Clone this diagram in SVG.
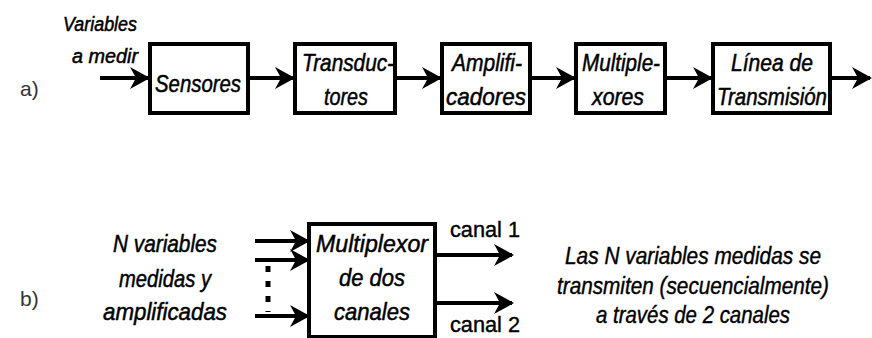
<svg xmlns="http://www.w3.org/2000/svg" width="872" height="338" viewBox="0 0 872 338">
<style>
.bg{fill:#fff}
.box{fill:#fff;stroke:#000;stroke-width:4}
.con{stroke:#000;stroke-width:4;fill:none}
.t{font-family:"Liberation Sans",Arial,sans-serif;font-style:italic;font-size:24px;fill:#000;stroke:#000;stroke-width:0.5}
.s{font-family:"Liberation Sans",Arial,sans-serif;font-style:italic;font-size:20px;fill:#000;stroke:#000;stroke-width:0.5}
.n{font-family:"Liberation Sans",Arial,sans-serif;font-style:italic;font-size:23px;fill:#000;stroke:#000;stroke-width:0.4}
.lab{font-family:"Liberation Sans",Arial,sans-serif;font-size:21px;fill:#333}
.r{font-family:"Liberation Sans",Arial,sans-serif;font-size:22px;fill:#000;stroke:#000;stroke-width:0.4}
</style>
<defs>
<marker id="ah" markerUnits="userSpaceOnUse" markerWidth="22" markerHeight="24" refX="18" refY="12" orient="auto" viewBox="0 0 22 24">
<path d="M0,1 L20,12 L0,23 L6,12 Z" fill="#000"/>
</marker>
</defs>
<rect class="bg" x="0" y="0" width="872" height="338"/>

<text class="lab" x="20" y="96">a)</text>
<text class="lab" x="20" y="306">b)</text>

<g id="connectors">
<line class="con" x1="100" y1="78" x2="148" y2="78" marker-end="url(#ah)"/>
<line class="con" x1="248" y1="78" x2="293" y2="78" marker-end="url(#ah)"/>
<line class="con" x1="395" y1="78" x2="440" y2="78" marker-end="url(#ah)"/>
<line class="con" x1="530" y1="78" x2="574" y2="78" marker-end="url(#ah)"/>
<line class="con" x1="665" y1="78" x2="711" y2="78" marker-end="url(#ah)"/>
<line class="con" x1="830" y1="78" x2="870" y2="78" marker-end="url(#ah)"/>
<line class="con" x1="255" y1="241" x2="308" y2="241" marker-end="url(#ah)"/>
<line class="con" x1="255" y1="260" x2="308" y2="260" marker-end="url(#ah)"/>
<line class="con" x1="255" y1="316" x2="308" y2="316" marker-end="url(#ah)"/>
<line x1="268" y1="266" x2="268" y2="312" stroke="#000" stroke-width="5" stroke-dasharray="6,9"/>
<line class="con" x1="435" y1="255" x2="512" y2="255" marker-end="url(#ah)"/>
<line class="con" x1="435" y1="303" x2="512" y2="303" marker-end="url(#ah)"/>
</g>

<g id="input-a">
<text class="s" x="63" y="31" textLength="74" lengthAdjust="spacingAndGlyphs">Variables</text>
<text class="s" x="72" y="63" textLength="66" lengthAdjust="spacingAndGlyphs">a medir</text>
</g>

<g id="sensores">
<rect class="box" x="150" y="44" width="98" height="69"/>
<text class="t" x="155" y="92" textLength="86" lengthAdjust="spacingAndGlyphs">Sensores</text>
</g>
<g id="transductores">
<rect class="box" x="295" y="44" width="100" height="69"/>
<text class="t" x="302" y="71" textLength="92" lengthAdjust="spacingAndGlyphs">Transduc-</text>
<text class="t" x="324" y="105" textLength="44" lengthAdjust="spacingAndGlyphs">tores</text>
</g>
<g id="amplificadores">
<rect class="box" x="442" y="44" width="88" height="69"/>
<text class="t" x="452" y="71" textLength="70" lengthAdjust="spacingAndGlyphs">Amplifi-</text>
<text class="t" x="446" y="105" textLength="80" lengthAdjust="spacingAndGlyphs">cadores</text>
</g>
<g id="multiplexores">
<rect class="box" x="576" y="44" width="89" height="69"/>
<text class="t" x="582" y="71" textLength="78" lengthAdjust="spacingAndGlyphs">Multiple-</text>
<text class="t" x="592" y="105" textLength="52" lengthAdjust="spacingAndGlyphs">xores</text>
</g>
<g id="linea">
<rect class="box" x="713" y="44" width="117" height="69"/>
<text class="t" x="731" y="71" textLength="82" lengthAdjust="spacingAndGlyphs">Línea de</text>
<text class="t" x="717" y="105" textLength="110" lengthAdjust="spacingAndGlyphs">Transmisión</text>
</g>

<g id="input-b">
<text class="t" x="165" y="252" text-anchor="middle" textLength="104" lengthAdjust="spacingAndGlyphs">N variables</text>
<text class="t" x="165" y="287" text-anchor="middle" textLength="92" lengthAdjust="spacingAndGlyphs">medidas y</text>
<text class="t" x="165" y="320" text-anchor="middle" textLength="124" lengthAdjust="spacingAndGlyphs">amplificadas</text>
</g>

<g id="multiplexor">
<rect class="box" x="309" y="224" width="126" height="113"/>
<text class="t" x="372" y="252" text-anchor="middle" textLength="112" lengthAdjust="spacingAndGlyphs">Multiplexor</text>
<text class="t" x="372" y="286" text-anchor="middle" textLength="66" lengthAdjust="spacingAndGlyphs">de dos</text>
<text class="t" x="372" y="320" text-anchor="middle" textLength="76" lengthAdjust="spacingAndGlyphs">canales</text>
</g>

<g id="canales">
<text class="r" x="450" y="237" textLength="70" lengthAdjust="spacingAndGlyphs">canal 1</text>
<text class="r" x="450" y="332" textLength="70" lengthAdjust="spacingAndGlyphs">canal 2</text>
</g>

<g id="nota">
<text class="n" x="693" y="264" text-anchor="middle" textLength="256" lengthAdjust="spacingAndGlyphs">Las N variables medidas se</text>
<text class="n" x="693" y="294" text-anchor="middle" textLength="272" lengthAdjust="spacingAndGlyphs">transmiten (secuencialmente)</text>
<text class="n" x="693" y="323" text-anchor="middle" textLength="194" lengthAdjust="spacingAndGlyphs">a través de 2 canales</text>
</g>
</svg>
